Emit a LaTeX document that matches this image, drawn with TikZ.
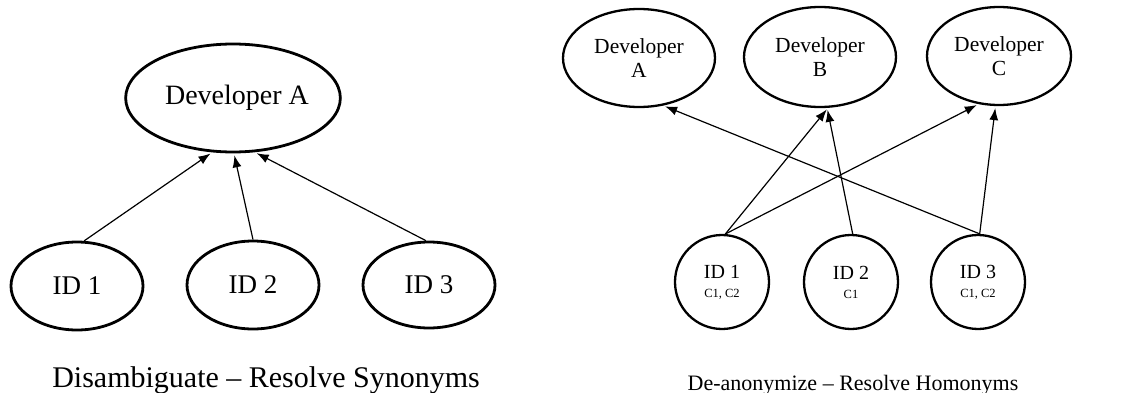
\documentclass[tikz,border=0pt]{standalone}
\usepackage{fontspec}
\setmainfont{Liberation Serif}
\usetikzlibrary{shapes.geometric,arrows.meta}

\tikzset{
  bigoval/.style={ellipse, draw, line width=2.8pt, inner sep=0pt},
  smalloval/.style={ellipse, draw, line width=2.3pt, inner sep=0pt},
  idcircle/.style={circle, draw, line width=2.3pt, inner sep=0pt, minimum size=94pt, align=center},
  link/.style={line width=1.2pt, -{Latex[length=12pt,width=9pt]}, shorten >=2pt},
  caption/.style={inner sep=0pt, anchor=base},
}
\newcommand{\idtext}[2]{\fontsize{20}{20}\selectfont #1\\[7pt]\fontsize{12.5}{14}\selectfont #2}

\begin{document}
\begin{tikzpicture}[x=1pt,y=-1pt]
\useasboundingbox (0,0) rectangle (1148,393);

% --- synonyms: several identities of one developer ---
\node[bigoval, minimum width=176pt, minimum height=108pt,
      font=\fontsize{28}{32}\selectfont] (devA) at (233,98) {\hspace*{8pt}Developer A};
\node[bigoval, minimum width=132pt, minimum height=88pt,
      font=\fontsize{27}{30}\selectfont] (id1) at (77,286) {ID 1};
\node[bigoval, minimum width=132pt, minimum height=88pt,
      font=\fontsize{27}{30}\selectfont] (id2) at (253,285) {ID 2};
\node[bigoval, minimum width=132pt, minimum height=86pt,
      font=\fontsize{27}{30}\selectfont] (id3) at (429,285) {ID 3};

\draw[link] (id1.81) -- (devA.249);
\draw[link] (id2.90) -- (devA.271);
\draw[link] (id3.94) -- (devA.292);

\node[caption, font=\fontsize{30}{34}\selectfont] (capL) at (266,387)
  {Disambiguate – Resolve Synonyms};

% --- homonyms: one identity shared by several developers ---
\node[smalloval, minimum width=152pt, minimum height=98pt, align=center,
      font=\fontsize{21.5}{24}\selectfont] (dA) at (639,58) {Developer\\A};
\node[smalloval, minimum width=152pt, minimum height=100pt, align=center,
      font=\fontsize{21.5}{24}\selectfont] (dB) at (820,57) {Developer\\B};
\node[smalloval, minimum width=144pt, minimum height=98pt, align=center,
      font=\fontsize{21.5}{24}\selectfont] (dC) at (999,56) {Developer\\C};

\node[idcircle] (c1) at (722,282) {\idtext{ID 1}{C1, C2}};
\node[idcircle] (c2) at (851,282) {\idtext{ID 2}{C1}};
\node[idcircle] (c3) at (978,282) {\idtext{ID 3}{C1, C2}};

\draw[link] (c1.86) -- (dB.279);
\draw[link] (c1.86) -- (dC.247);
\draw[link] (c2.88) -- (dB.278);
\draw[link] (c3.88) -- (dA.297);
\draw[link] (c3.88) -- (dC.266);

\node[caption, font=\fontsize{22}{26}\selectfont] (capR) at (853,390)
  {De-anonymize – Resolve Homonyms};
\end{tikzpicture}
\end{document}
